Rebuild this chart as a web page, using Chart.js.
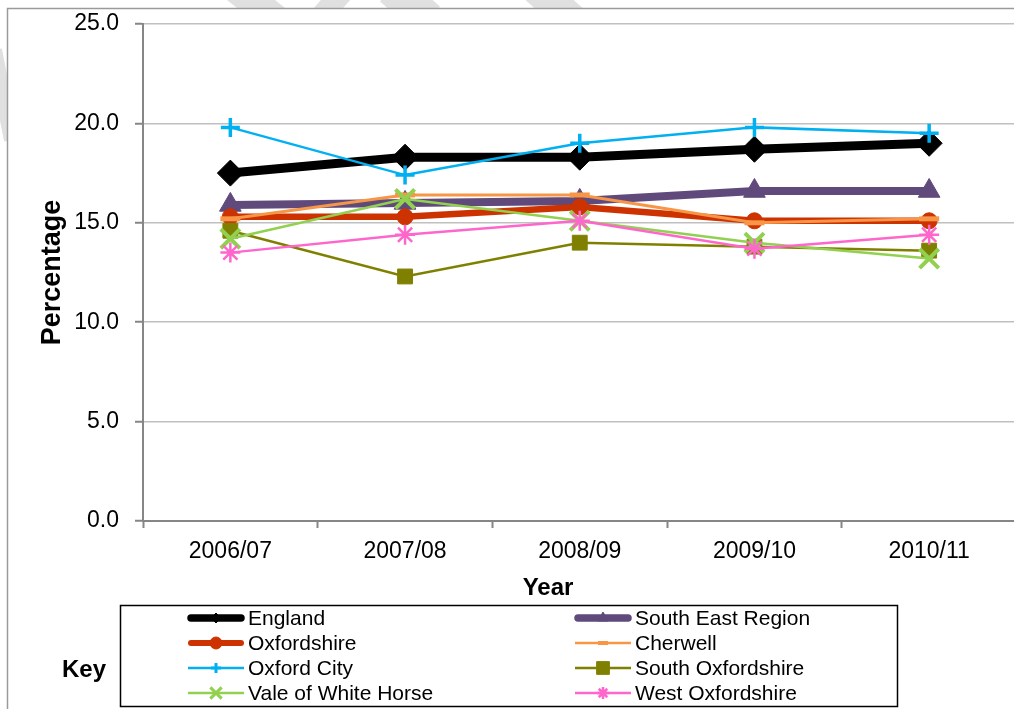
<!DOCTYPE html>
<html>
<head>
<meta charset="utf-8">
<title>Percentage by area, 2006/07 to 2010/11</title>
<script src="https://cdn.jsdelivr.net/npm/chart.js@4.4.0/dist/chart.umd.min.js"></script>
<style>
  html, body { margin: 0; padding: 0; background: #fff; overflow: hidden; }
  #chart { position: absolute; left: 0; top: 0; }
</style>
</head>
<body>
<canvas id="chart" width="1034" height="709"></canvas>
<script>
// Years along the x axis
const years = ['2006/07', '2007/08', '2008/09', '2009/10', '2010/11'];

// Percentage for each area, one value per year
const england = [17.5, 18.3, 18.3, 18.7, 19.0];
const southEast = [15.9, 16.0, 16.1, 16.6, 16.6];
const oxfordshire = [15.3, 15.3, 15.8, 15.1, 15.1];
const cherwell = [15.2, 16.4, 16.4, 15.0, 15.2];
const oxfordCity = [19.8, 17.4, 19.0, 19.8, 19.5];
const southOxfordshire = [14.6, 12.3, 14.0, 13.8, 13.6];
const valeWhiteHorse = [14.2, 16.2, 15.1, 14.0, 13.2];
const westOxfordshire = [13.5, 14.4, 15.1, 13.7, 14.4];

const seriesNames = ['England', 'South East Region', 'Oxfordshire', 'Cherwell',
  'Oxford City', 'South Oxfordshire', 'Vale of White Horse', 'West Oxfordshire'];
const seriesValues = [england, southEast, oxfordshire, cherwell,
  oxfordCity, southOxfordshire, valeWhiteHorse, westOxfordshire];

// Line and marker look for each series (plot marker, then the smaller key marker)
const seriesStyles = [
  { color: '#000000', width: 9, point: 'rectRot', radius: 13, pw: 1, keyWidth: 7.5, keyRadius: 5, keyPw: 1 },
  { color: '#604A7B', width: 8, point: 'triangle', radius: 12.5, pw: 1, keyWidth: 7.5, keyRadius: 6, keyPw: 1 },
  { color: '#CC3300', width: 6.5, point: 'circle', radius: 8, pw: 1, keyWidth: 6, keyRadius: 6, keyPw: 1 },
  { color: '#F79646', width: 3, point: 'line', radius: 10, pw: 5, keyWidth: 2.5, keyRadius: 5, keyPw: 4 },
  { color: '#00B0F0', width: 2.5, point: 'cross', radius: 9.5, pw: 3.5, keyWidth: 2.5, keyRadius: 5, keyPw: 3 },
  { color: '#808000', width: 2.5, point: 'rect', radius: 10.5, pw: 1, keyWidth: 2.5, keyRadius: 9, keyPw: 1 },
  { color: '#92D050', width: 2.5, point: 'crossRot', radius: 13.5, pw: 4, keyWidth: 2.5, keyRadius: 8, keyPw: 3 },
  { color: '#FF66CC', width: 2.5, point: 'star', radius: 10, pw: 2.5, keyWidth: 2.5, keyRadius: 6, keyPw: 2.5 }
];

const FONT = '"Liberation Sans", Arial, sans-serif';

const datasets = seriesNames.map((name, i) => {
  const s = seriesStyles[i];
  return {
    label: name,
    data: seriesValues[i],
    borderColor: s.color,
    backgroundColor: s.color,
    borderWidth: s.width,
    pointStyle: s.point,
    pointRadius: s.radius,
    pointBorderWidth: s.pw,
    pointBackgroundColor: s.color,
    pointBorderColor: s.color,
    tension: 0,
    clip: false,
    // later series are drawn on top
    order: seriesNames.length - i
  };
});

// page frame and the faint watermark strokes behind it
const framePlugin = {
  id: 'frame',
  beforeDraw(chart) {
    const ctx = chart.ctx;
    ctx.save();
    ctx.fillStyle = '#fff';
    ctx.fillRect(0, 0, chart.width, chart.height);
    ctx.strokeStyle = '#e0e0e0';
    ctx.lineCap = 'butt';
    const strokes = [
      [236, -12, 276, 20, 30],
      [346, -12, 318, 20, 22],
      [392, -12, 428, 20, 36],
      [536, -12, 572, 20, 32],
      [-6, 50, 12, 140, 16]
    ];
    strokes.forEach(([x1, y1, x2, y2, w]) => {
      ctx.lineWidth = w;
      ctx.beginPath();
      ctx.moveTo(x1, y1);
      ctx.lineTo(x2, y2);
      ctx.stroke();
    });
    ctx.fillStyle = '#fff';
    ctx.fillRect(7, 8, chart.width, chart.height);
    ctx.strokeStyle = '#9a9a9a';
    ctx.lineWidth = 1.5;
    ctx.strokeRect(7.5, 8.5, chart.width + 20, chart.height + 20);
    ctx.restore();
  }
};

// x axis title and the boxed key underneath the plot
const keyPlugin = {
  id: 'keyBox',
  afterDraw(chart) {
    const ctx = chart.ctx;
    ctx.save();
    ctx.fillStyle = '#000';
    ctx.font = 'bold 24px ' + FONT;
    ctx.textAlign = 'center';
    ctx.textBaseline = 'alphabetic';
    ctx.fillText('Year', 548, 595);

    ctx.textAlign = 'left';
    ctx.fillText('Key', 62, 677);

    ctx.strokeStyle = '#000';
    ctx.lineWidth = 1.5;
    ctx.strokeRect(120.5, 605.5, 777, 101);

    const colX = [188, 575];
    ctx.font = '21px ' + FONT;
    ctx.textBaseline = 'middle';
    chart.data.datasets.forEach((ds, i) => {
      const s = seriesStyles[i];
      const x0 = colX[i % 2];
      const y = 618 + Math.floor(i / 2) * 25;
      ctx.strokeStyle = s.color;
      ctx.fillStyle = s.color;
      ctx.lineWidth = s.keyWidth;
      ctx.lineCap = s.keyWidth > 4 ? 'round' : 'butt';
      ctx.beginPath();
      ctx.moveTo(x0 + (s.keyWidth > 4 ? 3 : 0), y);
      ctx.lineTo(x0 + 56 - (s.keyWidth > 4 ? 3 : 0), y);
      ctx.stroke();
      ctx.lineCap = 'butt';
      ctx.lineWidth = s.keyPw;
      Chart.helpers.drawPoint(ctx, {
        pointStyle: s.point, radius: s.keyRadius, rotation: 0, borderWidth: s.keyPw
      }, x0 + 28, y);
      ctx.fillStyle = '#000';
      ctx.fillText(ds.label, x0 + 60, y + 1);
    });
    ctx.restore();
  }
};

const ctx = document.getElementById('chart').getContext('2d');
const areaChart = new Chart(ctx, {
  type: 'line',
  data: { labels: years, datasets: datasets },
  options: {
    responsive: false,
    animation: false,
    devicePixelRatio: 1,
    layout: { padding: { left: 0, top: 24, right: 0, bottom: 0 } },
    plugins: {
      legend: { display: false },
      tooltip: { enabled: false },
      title: { display: false }
    },
    scales: {
      x: {
        offset: true,
        grid: {
          offset: true,
          drawOnChartArea: false,
          tickLength: 7,
          tickWidth: 2,
          tickColor: '#868686'
        },
        border: { color: '#868686', width: 2 },
        ticks: {
          color: '#000',
          font: { family: FONT, size: 23 },
          padding: 10,
          maxRotation: 0,
          autoSkip: false
        },
        afterFit(scale) {
          scale.height = 188;
          scale.paddingLeft = 0;
          scale.paddingRight = 0;
        }
      },
      y: {
        min: 0,
        max: 25,
        grid: {
          color: '#c0c0c0',
          lineWidth: 1.5,
          tickLength: 8,
          tickWidth: 2,
          tickColor: '#868686'
        },
        border: { color: '#868686', width: 2 },
        ticks: {
          stepSize: 5,
          color: '#000',
          font: { family: FONT, size: 23 },
          padding: 16,
          callback: value => value.toFixed(1)
        },
        title: {
          display: true,
          text: 'Percentage',
          color: '#000',
          font: { family: FONT, size: 27, weight: 'bold' },
          padding: { top: 36, bottom: 0 }
        },
        afterFit(scale) {
          scale.width = 143;
          // top of the plot follows the layout padding, not the label height
          scale.paddingTop = 0;
        }
      }
    }
  },
  plugins: [framePlugin, keyPlugin]
});
</script>
</body>
</html>
